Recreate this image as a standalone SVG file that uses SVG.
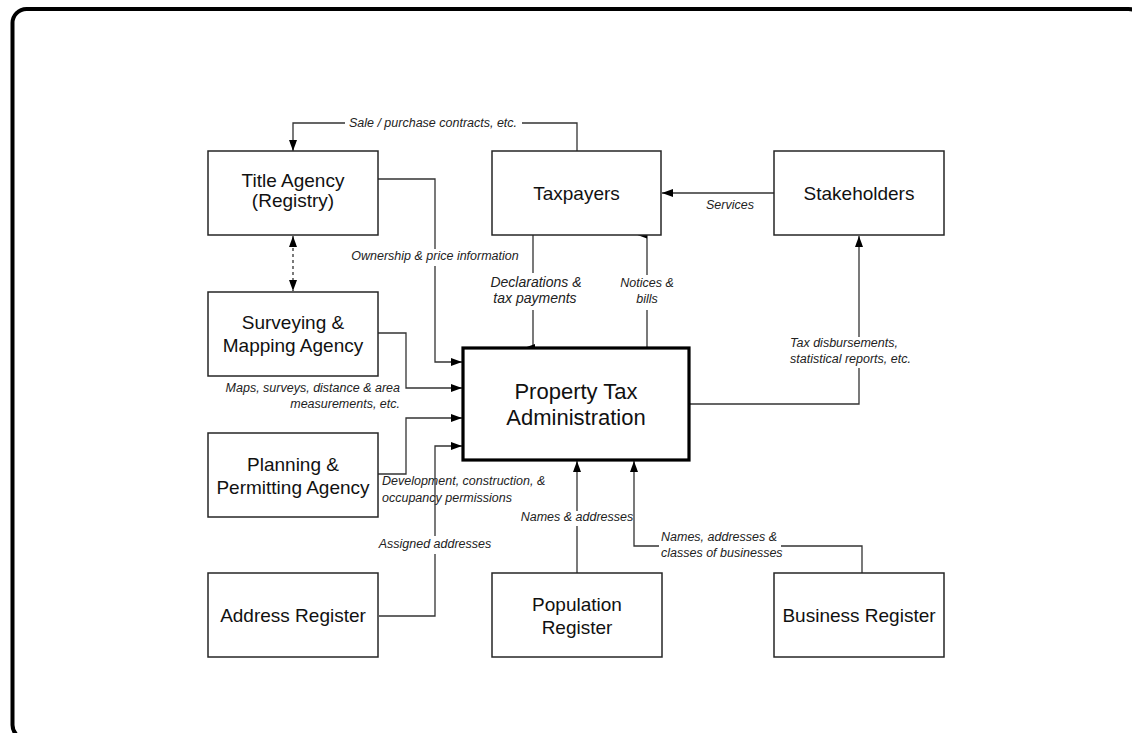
<svg xmlns="http://www.w3.org/2000/svg" width="1132" height="733" viewBox="0 0 1132 733">
<defs>
<style>
.box{fill:#fff;stroke:#262626;stroke-width:1.5}
.main{fill:#fff;stroke:#000;stroke-width:3.2}
.nt{font-family:"Liberation Sans",Arial,sans-serif;font-size:19px;fill:#111;text-anchor:middle}
.mt{font-family:"Liberation Sans",Arial,sans-serif;font-size:22px;fill:#111;text-anchor:middle}
.ln{fill:none;stroke:#333;stroke-width:1.3}
.lb{font-family:"Liberation Sans",Arial,sans-serif;font-size:12.5px;font-style:italic;fill:#222}
.lb2{font-family:"Liberation Sans",Arial,sans-serif;font-size:14px;font-style:italic;fill:#222;text-anchor:middle}
.c{text-anchor:middle}
.e{text-anchor:end}
</style>
<marker id="arr" viewBox="0 0 11 8" refX="11" refY="4" markerWidth="11" markerHeight="8" markerUnits="userSpaceOnUse" orient="auto">
<path d="M0,0 L11,4 L0,8 Z" fill="#000"/>
</marker>
<marker id="arrS" viewBox="0 0 11 8" refX="11" refY="4" markerWidth="11" markerHeight="8" markerUnits="userSpaceOnUse" orient="auto-start-reverse">
<path d="M0,0 L11,4 L0,8 Z" fill="#000"/>
</marker>
</defs>
<rect width="1132" height="733" fill="#fff"/>
<rect x="12.5" y="9" width="1130" height="730" rx="14" fill="none" stroke="#000" stroke-width="4"/>

<g id="connectors">
<path class="ln" d="M577,151 V123 H522 M345,123 H293 V151" marker-end="url(#arr)"/>
<text class="lb c" x="433" y="127">Sale / purchase contracts, etc.</text>
<path class="ln" d="M293,236 V291" stroke-dasharray="3,3" marker-start="url(#arrS)" marker-end="url(#arr)"/>
<path class="ln" d="M378,179 H435 V249 M435,266 V362 H462" marker-end="url(#arr)"/>
<text class="lb c" x="435" y="260">Ownership &amp; price information</text>
<path class="ln" d="M378,333 H406 V388 H462" marker-end="url(#arr)"/>
<text class="lb e" x="400" y="392">Maps, surveys, distance &amp; area</text>
<text class="lb e" x="400" y="408">measurements, etc.</text>
<path class="ln" d="M378,474 H406 V418 H462" marker-end="url(#arr)"/>
<text class="lb" x="382" y="485">Development, construction, &amp;</text>
<text class="lb" x="382" y="502">occupancy permissions</text>
<path class="ln" d="M379,616 H435 V554 M435,536 V446 H462" marker-end="url(#arr)"/>
<text class="lb c" x="435" y="548">Assigned addresses</text>
<path class="ln" d="M577,573 V526 M577,511 V461" marker-end="url(#arr)"/>
<text class="lb c" x="577" y="521">Names &amp; addresses</text>
<path class="ln" d="M862,573 V546 H781 M659,546 H634 V461" marker-end="url(#arr)"/>
<text class="lb" x="661" y="541">Names, addresses &amp;</text>
<text class="lb" x="661" y="557">classes of businesses</text>
<path class="ln" d="M689,404 H859 V368 M859,337 V236" marker-end="url(#arr)"/>
<text class="lb" x="790" y="347">Tax disbursements,</text>
<text class="lb" x="790" y="363">statistical reports, etc.</text>
<path class="ln" d="M774,193 H662" marker-end="url(#arr)"/>
<text class="lb c" x="730" y="209">Services</text>
<path class="ln" d="M533,235 V273 M533,310 V348"/>
<path d="M524,348 L535,344 L535,352 Z" fill="#000"/>
<text class="lb2" x="536" y="287">Declarations &amp;</text>
<text class="lb2" x="535" y="303">tax payments</text>
<path class="ln" d="M647,348 V310 M647,275 V235"/>
<path d="M636,234.5 L647,230.5 L647,238.5 Z" fill="#000"/>
<text class="lb c" x="647" y="287">Notices &amp;</text>
<text class="lb c" x="647" y="303">bills</text>
</g>

<g id="title-agency">
<rect class="box" x="208" y="151" width="170" height="84"/>
<text class="nt" x="293" y="187">Title Agency</text>
<text class="nt" x="293" y="207">(Registry)</text>
</g>
<g id="taxpayers">
<rect class="box" x="492" y="151" width="169" height="84"/>
<text class="nt" x="576.5" y="200">Taxpayers</text>
</g>
<g id="stakeholders">
<rect class="box" x="774" y="151" width="170" height="84"/>
<text class="nt" x="859" y="200">Stakeholders</text>
</g>
<g id="surveying">
<rect class="box" x="208" y="292" width="170" height="84"/>
<text class="nt" x="293" y="329">Surveying &amp;</text>
<text class="nt" x="293" y="352">Mapping Agency</text>
</g>
<g id="planning">
<rect class="box" x="208" y="433" width="170" height="84"/>
<text class="nt" x="293" y="471">Planning &amp;</text>
<text class="nt" x="293" y="494">Permitting Agency</text>
</g>
<g id="pta">
<rect class="main" x="463" y="348" width="226" height="112"/>
<text class="mt" x="576" y="399">Property Tax</text>
<text class="mt" x="576" y="425">Administration</text>
</g>
<g id="address-register">
<rect class="box" x="208" y="573" width="170" height="84"/>
<text class="nt" x="293" y="622">Address Register</text>
</g>
<g id="population-register">
<rect class="box" x="492" y="573" width="170" height="84"/>
<text class="nt" x="577" y="611">Population</text>
<text class="nt" x="577" y="634">Register</text>
</g>
<g id="business-register">
<rect class="box" x="774" y="573" width="170" height="84"/>
<text class="nt" x="859" y="622">Business Register</text>
</g>
</svg>
